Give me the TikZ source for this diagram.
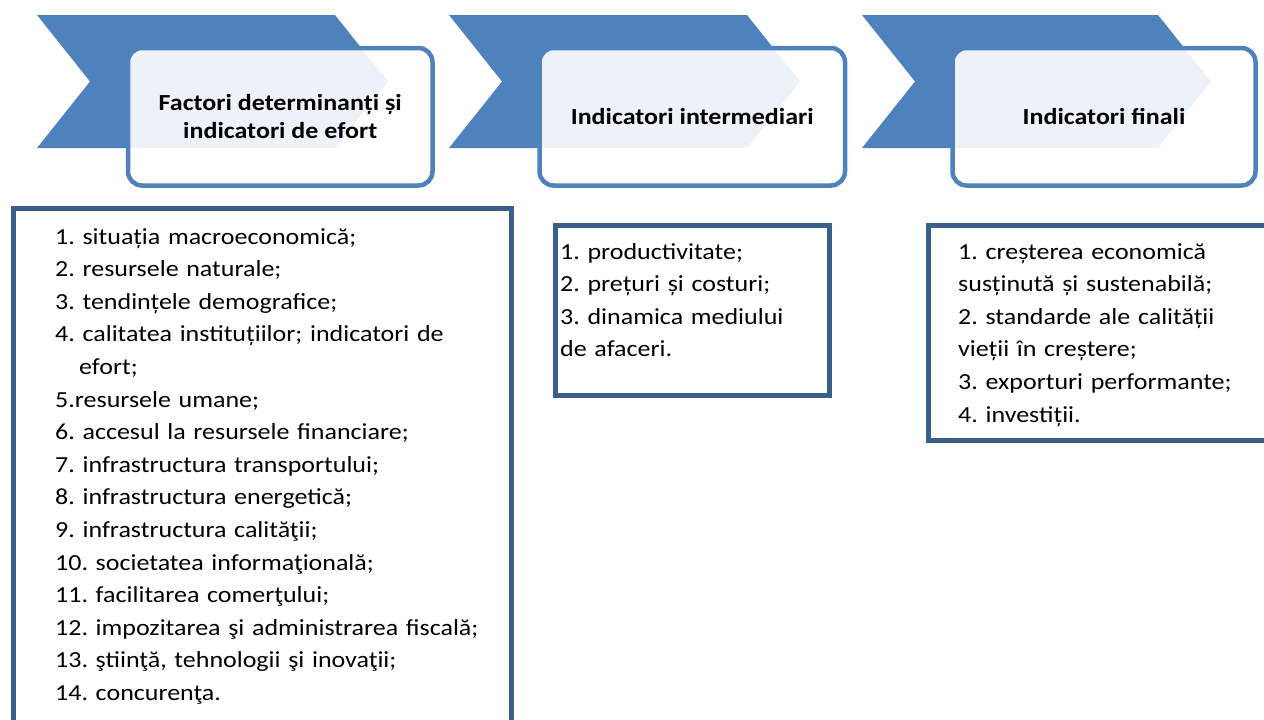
\documentclass[tikz,border=0pt]{standalone}
\usepackage{fontspec}
\setmainfont{Carlito}[FakeStretch=1.13]
\frenchspacing
\definecolor{chevblue}{HTML}{4F81BD}
\definecolor{headline}{HTML}{4F81BD}
\definecolor{listline}{HTML}{3A5F8B}
\begin{document}
\begin{tikzpicture}[x=1pt,y=-1pt,
  chev/.style={fill=chevblue,draw=none},
  headbox/.style={draw=headline,line width=4.5pt,rounded corners=14pt,fill=white,fill opacity=0.9,text opacity=1,
    inner sep=0pt,font=\bfseries\fontsize{23}{28}\selectfont,align=center,text=black},
  listbox/.style={draw=listline,line width=5pt,fill=white,inner sep=0pt},
  listtxt/.style={font=\fontsize{23}{32.6}\selectfont,align=left,anchor=base west,inner sep=0pt,text=black}
]
\useasboundingbox (0,0) rectangle (1264,720);
\clip (0,0) rectangle (1264,720);

% chevrons
\fill[chev] (37,15) -- (335,15) -- (388,81.5) -- (335,148) -- (37,148) -- (90,81.5) -- cycle;
\fill[chev] (449,15) -- (747,15) -- (800,81.5) -- (747,148) -- (449,148) -- (502,81.5) -- cycle;
\fill[chev] (862,15) -- (1158,15) -- (1211,81.5) -- (1158,148) -- (862,148) -- (915,81.5) -- cycle;

% header boxes
\node[headbox,minimum width=304.5pt,minimum height=137.5pt] (h1) at (280.25,116.75)
  {Factori determinanți și\\indicatori de efort};
\node[headbox,minimum width=305.5pt,minimum height=137.5pt] (h2) at (692.25,116.75)
  {Indicatori intermediari};
\node[headbox,minimum width=303pt,minimum height=137.5pt] (h3) at (1104,116.75)
  {Indicatori finali};

% list boxes
\node[listbox,minimum width=498pt,minimum height=560pt,anchor=north west] (b1) at (10.5,206) {};
\node[listbox,minimum width=274.5pt,minimum height=170pt,anchor=north west] (b2) at (552.5,222.5) {};
\node[listbox,minimum width=360pt,minimum height=215pt,anchor=north west] (b3) at (925.5,222.5) {};

% list texts
\node[listtxt,text width=450pt] (t1) at (55,244) {1. situația macroeconomică;\\
2. resursele naturale;\\
3. tendințele demografice;\\
4. calitatea instituțiilor; indicatori de\\
\hspace*{24pt}efort;\\
5.resursele umane;\\
6. accesul la resursele financiare;\\
7. infrastructura transportului;\\
8. infrastructura energetică;\\
9. infrastructura calităţii;\\
10. societatea informaţională;\\
11. facilitarea comerţului;\\
12. impozitarea şi administrarea fiscală;\\
13. ştiinţă, tehnologii şi inovaţii;\\
14. concurenţa.};

\node[listtxt,text width=260pt] (t2) at (560,259) {1. productivitate;\\
2. prețuri și costuri;\\
3. dinamica mediului\\
de afaceri.};

\node[listtxt,text width=300pt] (t3) at (958,259) {1. creșterea economică\\
susținută și sustenabilă;\\
2. standarde ale calității\\
vieții în creștere;\\
3. exporturi performante;\\
4. investiții.};
\end{tikzpicture}
\end{document}
